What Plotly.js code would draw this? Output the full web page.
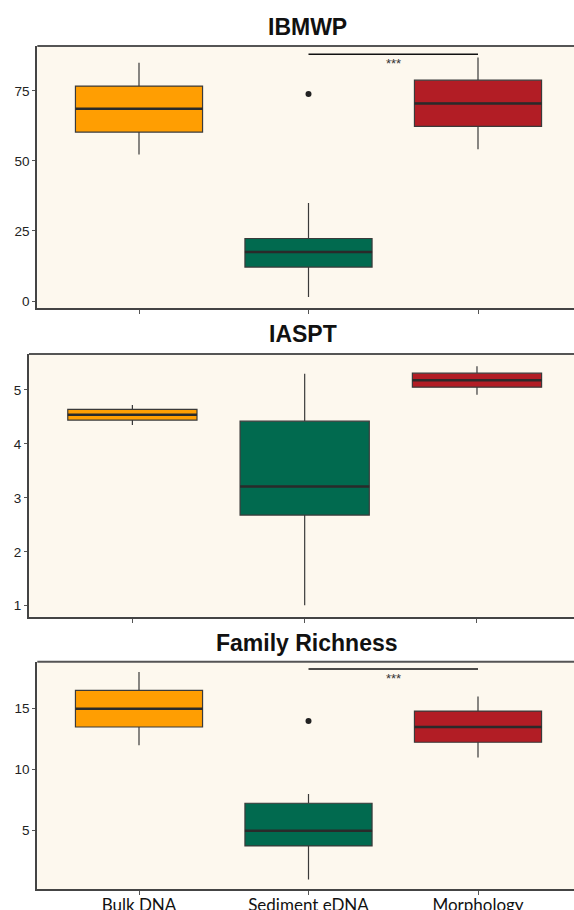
<!DOCTYPE html>
<html>
<head>
<meta charset="utf-8">
<script src="https://cdn.plot.ly/plotly-3.0.1.min.js"></script>
<style>
html,body{margin:0;padding:0;background:#fff;}
#chart{width:574px;height:910px;}
</style>
</head>
<body>
<div id="chart"></div>
<script>
// ---- data ----
const categories = ["Bulk DNA", "Sediment eDNA", "Morphology"];
const colors = ["#FF9E02", "#016A4F", "#B21D25"];
const panelTitles = ["IBMWP", "IASPT", "Family Richness"];

// IBMWP: whisker low, q1, median, q3, whisker high per category
const ibmwpLow = [52.3, 1.4, 54.2];
const ibmwpQ1 = [60.3, 12.1, 62.3];
const ibmwpMed = [68.6, 17.5, 70.5];
const ibmwpQ3 = [76.7, 22.3, 78.8];
const ibmwpHigh = [85.0, 35.0, 86.9];
const ibmwpOutlierCat = ["Sediment eDNA"];
const ibmwpOutlierVal = [73.9];
const ibmwpSig = {from: "Sediment eDNA", to: "Morphology", y: 88.1, label: "***"};

// IASPT
const iasptLow = [4.35, 1.01, 4.91];
const iasptQ1 = [4.44, 2.68, 5.05];
const iasptMed = [4.54, 3.21, 5.18];
const iasptQ3 = [4.64, 4.42, 5.31];
const iasptHigh = [4.72, 5.30, 5.44];

// Family Richness
const famLow = [12.0, 1.0, 11.0];
const famQ1 = [13.5, 3.75, 12.25];
const famMed = [15.0, 5.0, 13.5];
const famQ3 = [16.5, 7.25, 14.8];
const famHigh = [18.0, 8.0, 16.0];
const famOutlierCat = ["Sediment eDNA"];
const famOutlierVal = [14.0];
const famSig = {from: "Sediment eDNA", to: "Morphology", y: 18.25, label: "***"};

const yTicks1 = [0, 25, 50, 75];
const yTicks2 = [1, 2, 3, 4, 5];
const yTicks3 = [5, 10, 15];

// ---- build ----
const H = 910, W = 574;
const idx = c => categories.indexOf(c);
const traces = [];
const annotations = [];
const shapes = [];

function addPanel(n, low, q1, med, q3, high, outCat, outVal, sig) {
  const xa = n === 1 ? "x" : "x" + n;
  const ya = n === 1 ? "y" : "y" + n;
  categories.forEach((c, i) => {
    traces.push({
      type: "box", xaxis: xa, yaxis: ya,
      x: [i], q1: [q1[i]], median: [med[i]], q3: [q3[i]],
      lowerfence: [low[i]], upperfence: [high[i]],
      width: 0.75, fillcolor: colors[i],
      line: {color: "#3a3a3a", width: 1.2},
      whiskerwidth: 0, boxpoints: false, showlegend: false, hoverinfo: "skip"
    });
    // thicker median bar
    traces.push({
      type: "scatter", mode: "lines", xaxis: xa, yaxis: ya,
      x: [i - 0.375, i + 0.375], y: [med[i], med[i]],
      line: {color: "#2a2a2a", width: 2.5}, showlegend: false, hoverinfo: "skip"
    });
  });
  if (outCat) {
    traces.push({
      type: "scatter", mode: "markers", xaxis: xa, yaxis: ya,
      x: outCat.map(idx), y: outVal,
      marker: {color: "#222", size: 6}, showlegend: false, hoverinfo: "skip"
    });
  }
  if (sig) {
    traces.push({
      type: "scatter", mode: "lines", xaxis: xa, yaxis: ya,
      x: [idx(sig.from), idx(sig.to)], y: [sig.y, sig.y],
      line: {color: "#111", width: 1.5}, showlegend: false, hoverinfo: "skip"
    });
    annotations.push({
      xref: xa, yref: ya, x: (idx(sig.from) + idx(sig.to)) / 2, y: sig.y,
      yanchor: "top", xanchor: "center", yshift: 0,
      text: sig.label, showarrow: false,
      font: {family: "Liberation Sans, Arial", size: 13, color: "#333333"}
    });
  }
  shapes.push({
    type: "line", xref: xa + " domain", yref: ya + " domain",
    x0: 0, x1: 1, y0: 1, y1: 1, line: {color: "#555", width: 2}
  });
}

addPanel(1, ibmwpLow, ibmwpQ1, ibmwpMed, ibmwpQ3, ibmwpHigh, ibmwpOutlierCat, ibmwpOutlierVal, ibmwpSig);
addPanel(2, iasptLow, iasptQ1, iasptMed, iasptQ3, iasptHigh, null, null, null);
addPanel(3, famLow, famQ1, famMed, famQ3, famHigh, famOutlierCat, famOutlierVal, famSig);

// panel geometry in pixels
const panels = [
  {top: 46, bottom: 308.3, left: 37.3, spacing: 169.5, title: 27, titleX: 307, yr: [-2.6, 91], ticks: yTicks1},
  {top: 354, bottom: 616.7, left: 29, spacing: 172.3, title: 334, titleX: 303, yr: [0.797, 5.665], ticks: yTicks2},
  {top: 661.7, bottom: 889.3, left: 37.3, spacing: 169.5, title: 643, titleX: 307, yr: [0.197, 18.85], ticks: yTicks3}
];

const layout = {
  width: W, height: H,
  margin: {l: 0, r: 0, t: 0, b: 0},
  paper_bgcolor: "#ffffff",
  plot_bgcolor: "#FDF8EE",
  showlegend: false,
  annotations: annotations,
  shapes: shapes
};

panels.forEach((p, k) => {
  const n = k + 1;
  const xk = n === 1 ? "xaxis" : "xaxis" + n;
  const yk = n === 1 ? "yaxis" : "yaxis" + n;
  const ya = n === 1 ? "y" : "y" + n;
  const xa = n === 1 ? "x" : "x" + n;
  const x0 = -0.6;
  const xRight = x0 + (W - p.left) / p.spacing;
  layout[xk] = {
    domain: [p.left / W, 1], anchor: ya,
    range: [x0, xRight], showgrid: false, zeroline: false,
    showline: true, linecolor: "#444", linewidth: 2,
    ticks: "outside", ticklen: 4, tickwidth: 1, tickcolor: "#555",
    tickvals: [0, 1, 2],
    ticktext: n === 3 ? categories : ["", "", ""],
    showticklabels: n === 3,
    ticklabelstandoff: -5,
    tickfont: {family: "Lato, Open Sans, sans-serif", size: 17, color: "#111"},
    fixedrange: true
  };
  layout[yk] = {
    domain: [1 - p.bottom / H, 1 - p.top / H], anchor: xa,
    range: p.yr, showgrid: false, zeroline: false,
    showline: true, linecolor: "#444", linewidth: 2,
    ticks: "outside", ticklen: 3, tickwidth: 1, tickcolor: "#555",
    tickvals: p.ticks,
    tickfont: {family: "Liberation Sans, Arial", size: 13.5, color: "#222"},
    fixedrange: true
  };
  annotations.push({
    xref: "paper", yref: "paper", x: p.titleX / W, y: 1 - p.title / H,
    xanchor: "center", yanchor: "middle", showarrow: false,
    text: "<b>" + panelTitles[k] + "</b>",
    font: {family: "Liberation Sans, Arial", size: 23, color: "#111"}
  });
});

Plotly.newPlot("chart", traces, layout, {staticPlot: true});
</script>
</body>
</html>
